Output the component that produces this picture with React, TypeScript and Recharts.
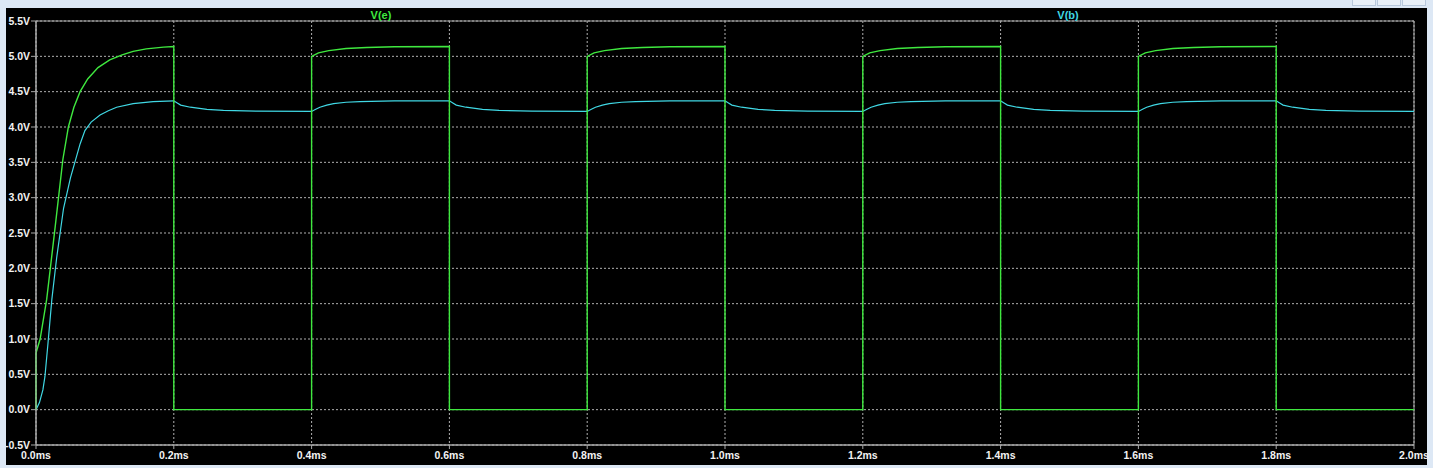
import { LineChart, Line, XAxis, YAxis, CartesianGrid, ReferenceArea } from "recharts";

const xTicks = [0, 0.2, 0.4, 0.6, 0.8, 1.0, 1.2, 1.4, 1.6, 1.8, 2.0];
const yTicks = [-0.5, 0, 0.5, 1.0, 1.5, 2.0, 2.5, 3.0, 3.5, 4.0, 4.5, 5.0, 5.5];

// V(e): [time ms, volts]
const vePoints: [number, number][] = [
  [0, 0], [0, 0.8], [0.006, 1.0], [0.0155, 1.56], [0.028, 2.6], [0.039, 3.54], [0.047, 4.0],
  [0.055, 4.28], [0.064, 4.5], [0.075, 4.68], [0.09, 4.84], [0.107, 4.95], [0.125, 5.02],
  [0.141, 5.07], [0.16, 5.105], [0.185, 5.13], [0.2, 5.14], [0.2, 0],
  [0.4, 0], [0.4, 5.0], [0.41, 5.05], [0.425, 5.08], [0.45, 5.11], [0.48, 5.125], [0.52, 5.135], [0.6, 5.14], [0.6, 0],
  [0.8, 0], [0.8, 5.0], [0.81, 5.05], [0.825, 5.08], [0.85, 5.11], [0.88, 5.125], [0.92, 5.135], [1.0, 5.14], [1.0, 0],
  [1.2, 0], [1.2, 5.0], [1.21, 5.05], [1.225, 5.08], [1.25, 5.11], [1.28, 5.125], [1.32, 5.135], [1.4, 5.14], [1.4, 0],
  [1.6, 0], [1.6, 5.0], [1.61, 5.05], [1.625, 5.08], [1.65, 5.11], [1.68, 5.125], [1.72, 5.135], [1.8, 5.14], [1.8, 0],
  [2.0, 0],
];

// V(b): [time ms, volts]
const vbPoints: [number, number][] = [
  [0, 0], [0.005, 0.1], [0.01, 0.28], [0.013, 0.47], [0.0175, 0.95], [0.023, 1.56], [0.03, 2.15],
  [0.04, 2.85], [0.05, 3.28], [0.057, 3.52], [0.064, 3.76], [0.071, 3.95], [0.08, 4.07], [0.093, 4.17],
  [0.105, 4.23], [0.117, 4.28], [0.141, 4.33], [0.17, 4.36], [0.2, 4.37],
  [0.205, 4.34], [0.21, 4.31], [0.224, 4.28], [0.248, 4.25], [0.272, 4.235], [0.32, 4.225], [0.4, 4.22],
  [0.406, 4.25], [0.412, 4.28], [0.422, 4.31], [0.432, 4.33], [0.45, 4.35], [0.47, 4.36], [0.52, 4.37], [0.6, 4.37],
  [0.605, 4.34], [0.61, 4.31], [0.624, 4.28], [0.648, 4.25], [0.672, 4.235], [0.72, 4.225], [0.8, 4.22],
  [0.806, 4.25], [0.812, 4.28], [0.822, 4.31], [0.832, 4.33], [0.85, 4.35], [0.87, 4.36], [0.92, 4.37], [1.0, 4.37],
  [1.005, 4.34], [1.01, 4.31], [1.024, 4.28], [1.048, 4.25], [1.072, 4.235], [1.12, 4.225], [1.2, 4.22],
  [1.206, 4.25], [1.212, 4.28], [1.222, 4.31], [1.232, 4.33], [1.25, 4.35], [1.27, 4.36], [1.32, 4.37], [1.4, 4.37],
  [1.405, 4.34], [1.41, 4.31], [1.424, 4.28], [1.448, 4.25], [1.472, 4.235], [1.52, 4.225], [1.6, 4.22],
  [1.606, 4.25], [1.612, 4.28], [1.622, 4.31], [1.632, 4.33], [1.65, 4.35], [1.67, 4.36], [1.72, 4.37], [1.8, 4.37],
  [1.805, 4.34], [1.81, 4.31], [1.824, 4.28], [1.848, 4.25], [1.872, 4.235], [1.92, 4.225], [2.0, 4.22],
];

const veData = vePoints.map(([t, v]) => ({ t, v }));
const vbData = vbPoints.map(([t, v]) => ({ t, v }));

const GREEN = "#3fe83f";
const CYAN = "#40d8e4";
const FONT = "'Liberation Sans', Arial, sans-serif";
const tickStyle = { fill: "#f2f2f2", fontSize: 10.5, fontWeight: 700, fontFamily: FONT };

const WinButton = ({ left }: { left: number }) => (
  <div
    style={{
      position: "absolute", left, top: 0, width: 22, height: 5,
      border: "1px solid #b8c8dc", borderTop: "none", background: "#e9f0f8",
    }}
  />
);

export default function App() {
  return (
    <div style={{ position: "absolute", left: 0, top: 0, width: 1433, height: 468, background: "#dde8f5", overflow: "hidden" }}>
      <WinButton left={1352} />
      <WinButton left={1377} />
      <WinButton left={1402} />
      <div style={{ position: "absolute", left: 6, top: 8, width: 1421, height: 457, background: "#000" }} />
      <div style={{ position: "absolute", left: 6, top: 8 }}>
        <LineChart width={1427} height={460} margin={{ top: 13, right: 19, left: 0, bottom: 0 }}>
          <CartesianGrid stroke="#b0b0b0" strokeDasharray="2 2" />
          <XAxis
            dataKey="t"
            type="number"
            domain={[0, 2]}
            ticks={xTicks}
            interval={0}
            height={23}
            tickFormatter={(v: number) => `${v.toFixed(1)}ms`}
            tick={tickStyle}
            tickSize={4}
            tickMargin={3}
            axisLine={{ stroke: "#a8a8a8" }}
            tickLine={{ stroke: "#a8a8a8" }}
          />
          <YAxis
            type="number"
            domain={[-0.5, 5.5]}
            ticks={yTicks}
            interval={0}
            width={30}
            tickFormatter={(v: number) => `${v.toFixed(1)}V`}
            tick={tickStyle}
            tickSize={5}
            tickMargin={1}
            axisLine={{ stroke: "#a8a8a8" }}
            tickLine={{ stroke: "#a8a8a8" }}
          />
          <ReferenceArea x1={0} x2={2} y1={-0.5} y2={5.5} fill="none" stroke="#a8a8a8" strokeWidth={1} />
          <Line data={vbData} dataKey="v" type="linear" stroke={CYAN} strokeWidth={1.2} dot={false} isAnimationActive={false} />
          <Line data={veData} dataKey="v" type="linear" stroke={GREEN} strokeWidth={1.4} dot={false} isAnimationActive={false} />
        </LineChart>
      </div>
      <div style={{ position: "absolute", left: 381, top: 15, transform: "translate(-50%, -50%)", color: GREEN, font: `700 11px ${FONT}` }}>
        V(e)
      </div>
      <div style={{ position: "absolute", left: 1068, top: 15, transform: "translate(-50%, -50%)", color: CYAN, font: `700 11px ${FONT}` }}>
        V(b)
      </div>
    </div>
  );
}
